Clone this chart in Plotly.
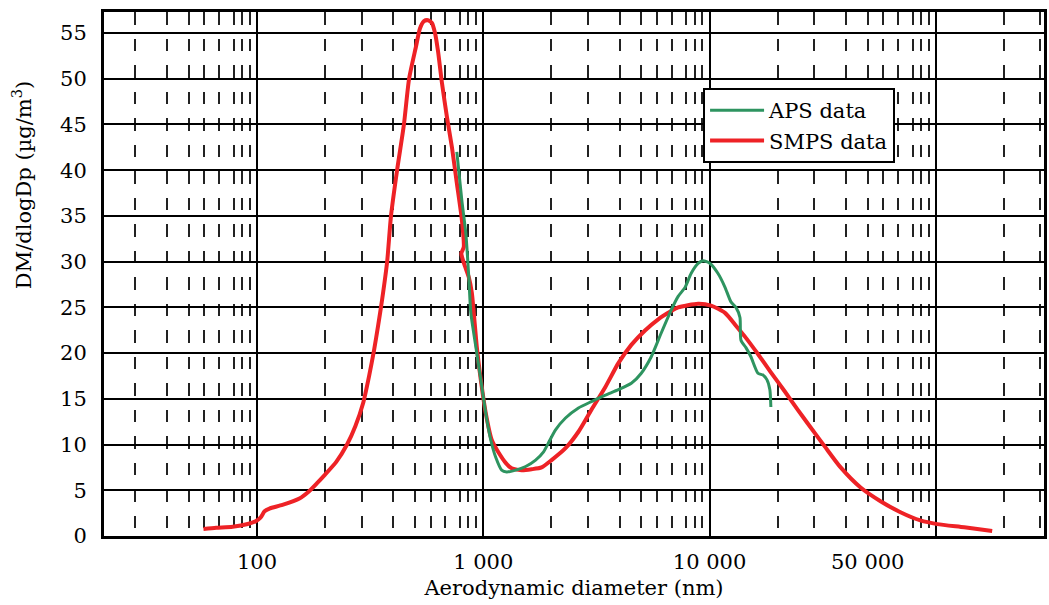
import numpy as np
import plotly.graph_objects as go

# ---------------- data ----------------
smps_d = [58, 66, 78, 91, 98.5, 103.6, 108, 113.5, 129.5, 154, 170, 184.7, 198, 224,
          250, 272, 295, 313, 329, 343, 357, 376, 391, 416, 446, 470, 504, 525,
          547, 570, 593, 612, 631, 657, 691, 727, 764, 804, 820, 800, 822, 863, 890,
          908, 936, 975, 1026, 1090, 1170, 1256, 1335, 1477, 1636, 1810, 2004, 2309,
          2634, 3006, 3464, 3954, 4511, 5199, 5932, 6768, 7265, 8899, 10150, 11700,
          13080, 14335, 16357, 18660, 21510, 24546, 27160, 32270, 37955, 46500,
          56960, 69770, 85460, 101500, 133500, 177400]
smps_v = [0.77, 0.9, 1.02, 1.31, 1.6, 2.0, 2.7, 3.0, 3.4, 4.1, 4.9, 5.8, 6.6, 8.1,
          10.0, 12.0, 14.6, 17.5, 20.3, 23.0, 25.8, 30.0, 35.0, 40.0, 45.0, 50.0,
          53.5, 55.5, 56.3, 56.4, 56.1, 55.0, 53.0, 49.5, 45.8, 42.5, 38.6, 34.6, 31.6,
          30.9, 29.8, 28.3, 26.6, 24.4, 20.7, 17.1, 13.4, 10.5, 9.1, 8.0, 7.4, 7.2,
          7.3, 7.5, 8.3, 9.6, 11.4, 13.8, 16.3, 18.9, 20.9, 22.5, 23.7, 24.6, 25.0,
          25.4, 25.2, 24.4, 23.0, 21.8, 19.9, 17.9, 15.8, 13.8, 12.3, 9.8, 7.5, 5.3,
          3.8, 2.6, 1.7, 1.3, 0.95, 0.55]

aps_d = [764, 804, 837.5, 863, 881, 927, 975, 1026, 1079, 1135, 1206, 1269, 1391,
         1539, 1703, 1847, 1943, 2086, 2309, 2634, 3006, 3464, 3954, 4511, 4992,
         5525, 6115, 6768, 7265, 7801, 8286, 8899, 9363, 10051, 10900, 11704, 12434,
         13080, 13625, 13764, 14481, 15233, 16357, 17208, 17920, 18473, 18661]
aps_v = [42.0, 36.7, 33.1, 28.3, 24.4, 20.7, 17.1, 13.4, 10.5, 8.6, 7.2, 7.0, 7.2,
         7.6, 8.3, 9.2, 10.2, 11.6, 12.9, 14.0, 14.7, 15.4, 16.0, 16.7, 17.8, 19.6,
         22.2, 24.7, 26.2, 27.2, 28.7, 29.8, 30.1, 29.8, 28.7, 27.2, 25.6, 25.0, 23.9,
         21.4, 20.6, 19.6, 17.8, 17.6, 17.1, 16.0, 14.1]

x_tick_vals = [100, 1000, 10000, 50000]
x_tick_text = ["100", "1 000", "10 000", "50 000"]
y_tick_vals = [0, 5, 10, 15, 20, 25, 30, 35, 40, 45, 50, 55]
decade_lines = [100, 1000, 10000, 100000]
decade_starts = [10, 100, 1000, 10000, 100000]
minor_mult = [2, 2.9, 4, 5, 5.85, 6.8, 7.9, 8.6, 9.3]

# ---------------- styling ----------------
FONT = "DejaVu Serif"
FS = 21
GREEN = "#2E9460"
RED = "#EE2226"
x_range = [np.log10(21.08), np.log10(300600)]
y_range = [0, 57.3]
minor_vals = [d * m for d in decade_starts for m in minor_mult]

fig = go.Figure()
# APS trace lives on the overlaying axis x2 (same range), which carries the tick labels
fig.add_trace(go.Scatter(x=aps_d, y=aps_v, mode="lines", name="APS data",
                         line=dict(color=GREEN, width=3, shape="spline", smoothing=0.6),
                         xaxis="x2", yaxis="y"))
fig.add_trace(go.Scatter(x=smps_d, y=smps_v, mode="lines", name="SMPS data",
                         line=dict(color=RED, width=4, shape="spline", smoothing=0.6),
                         xaxis="x", yaxis="y"))

fig.update_layout(
    width=1049, height=605,
    margin=dict(l=104, r=2, t=12, b=69),
    paper_bgcolor="white", plot_bgcolor="white",
    font=dict(family=FONT, size=FS, color="black"),
    showlegend=True,
    legend=dict(x=0.6373, y=0.855, xanchor="left", yanchor="top",
                bgcolor="white", bordercolor="black", borderwidth=2,
                font=dict(family=FONT, size=FS, color="black"),
                tracegroupgap=0, itemwidth=54),
    xaxis=dict(type="log", range=x_range,
               tickvals=decade_lines, showticklabels=False, ticks="",
               showgrid=True, gridcolor="black", gridwidth=2,
               minor=dict(tickvals=minor_vals, showgrid=True, gridcolor="#222222",
                          gridwidth=1.5, griddash="12.5px,14px", ticks=""),
               showline=True, linecolor="black", linewidth=3, mirror=True,
               zeroline=False),
    xaxis2=dict(type="log", range=x_range, overlaying="x", anchor="y", side="bottom",
                tickvals=x_tick_vals, ticktext=x_tick_text, ticks="",
                ticklabelstandoff=11,
                tickfont=dict(family=FONT, size=FS, color="black"),
                showgrid=False, showline=False, zeroline=False,
                title=dict(text="Aerodynamic diameter (nm)", standoff=7,
                           font=dict(family=FONT, size=FS, color="black"))),
    yaxis=dict(range=y_range, tickvals=y_tick_vals, ticks="",
               ticklabelstandoff=10,
               tickfont=dict(family=FONT, size=FS, color="black"),
               showgrid=True, gridcolor="black", gridwidth=1.5,
               showline=True, linecolor="black", linewidth=3, mirror=True,
               zeroline=False),
    annotations=[dict(text="DM/dlogDp (µg/m<sup>3</sup>)", textangle=-90,
                      xref="paper", yref="paper", x=-0.087, y=0.67,
                      xanchor="center", yanchor="middle", showarrow=False,
                      font=dict(family=FONT, size=FS, color="black"))],
)

fig.write_html("out.html")
